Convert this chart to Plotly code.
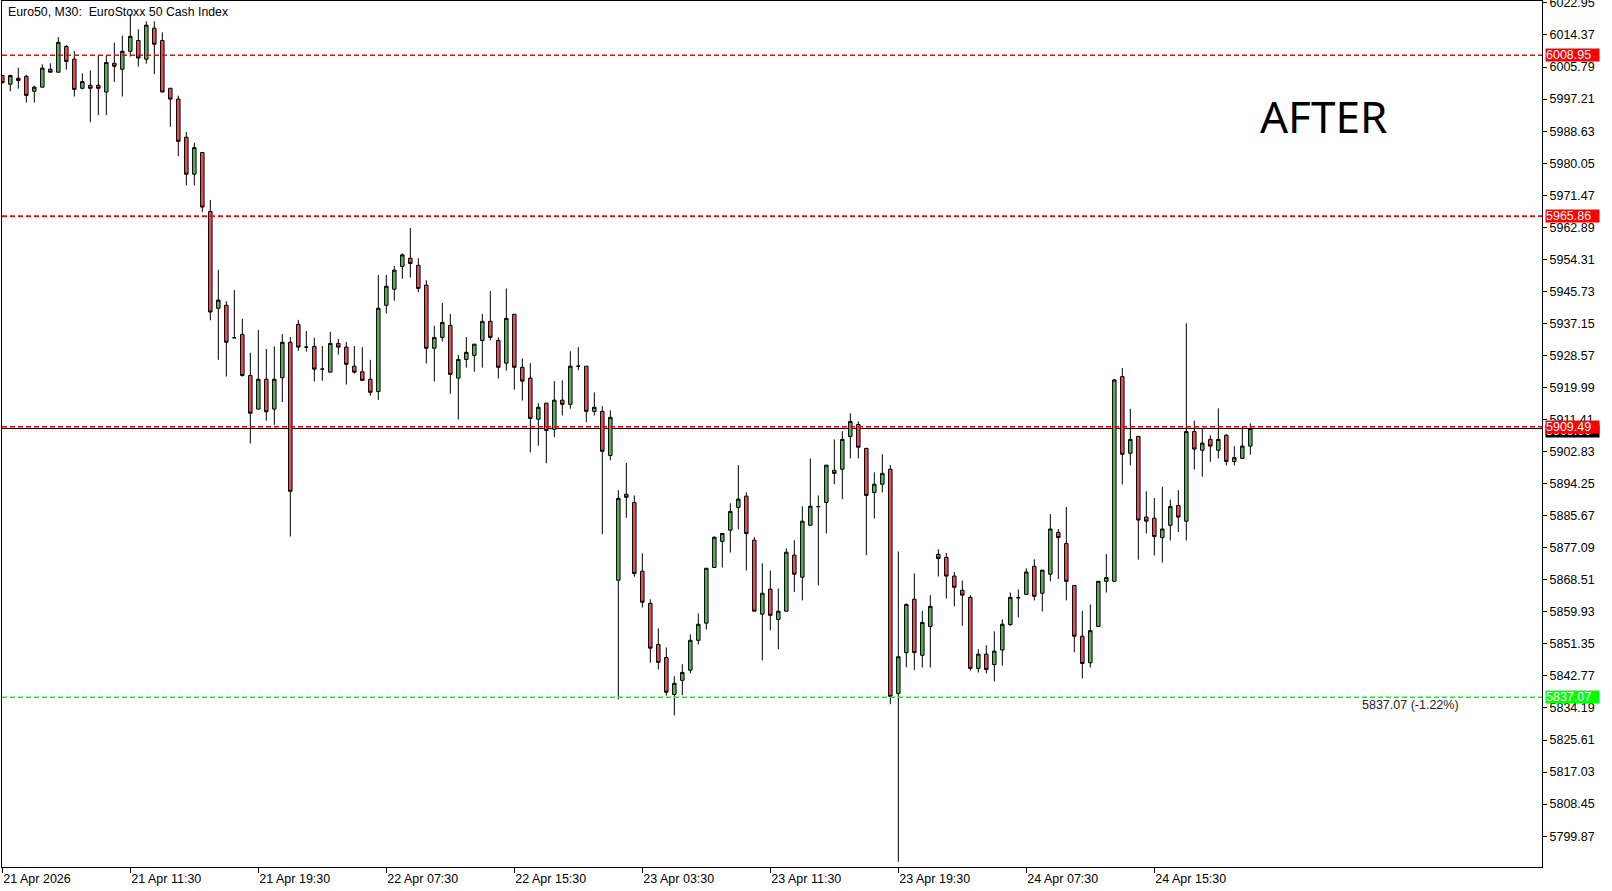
import plotly.graph_objects as go

# ---------------- data ----------------
opens = [6003.5, 6001.2, 6002.8, 6003.3, 5999.3, 6000.4, 6005.2, 6004.4, 6011.3, 6007.9,
         6000.1, 6000.9, 6000.9, 5999.1, 6006.8, 6005.2, 6010.0, 6012.9, 6007.9, 6016.2,
         6012.9, 6000.1, 5997.2, 5987.0, 5977.1, 5982.9, 5967.1, 5941.2, 5942.0, 5933.3,
         5934.2, 5923.2, 5914.2, 5922.2, 5914.2, 5922.6, 5932.1, 5936.9, 5930.8, 5931.0,
         5924.9, 5924.1, 5931.8, 5930.8, 5925.7, 5924.2, 5922.2, 5918.9, 5942.0, 5946.3,
         5952.4, 5954.6, 5952.7, 5947.4, 5930.5, 5933.4, 5936.6, 5922.5, 5927.5, 5928.6,
         5932.6, 5937.7, 5932.6, 5926.5, 5939.6, 5925.4, 5922.5, 5911.5, 5915.8, 5908.8,
         5916.6, 5915.5, 5925.7, 5925.7, 5913.6, 5913.6, 5901.8, 5868.4, 5891.4, 5889.2,
         5870.8, 5862.2, 5851.2, 5847.7, 5837.8, 5841.6, 5844.3, 5852.3, 5856.9, 5871.8,
         5878.8, 5881.8, 5887.9, 5890.9, 5879.1, 5859.3, 5866.0, 5857.9, 5860.1, 5875.1,
         5869.2, 5883.1, 5888.1, 5889.2, 5897.8, 5898.1, 5906.9, 5910.1, 5903.7, 5891.9,
         5894.1, 5898.1, 5838.1, 5849.0, 5863.3, 5848.3, 5856.0, 5875.3, 5874.5, 5869.5,
         5865.7, 5863.8, 5844.8, 5848.6, 5845.8, 5849.7, 5856.5, 5863.7, 5864.6, 5872.1,
         5864.9, 5870.0, 5881.2, 5878.2, 5867.0, 5853.4, 5846.3, 5856.0, 5868.1, 5868.1,
         5922.9, 5902.4, 5906.9, 5885.3, 5885.0, 5879.8, 5883.1, 5888.4, 5884.2, 5908.2,
         5903.2, 5906.1, 5903.2, 5907.2, 5900.2, 5901.0, 5904.3]
highs = [6003.7, 6003.7, 6005.6, 6003.7, 6000.8, 6006.5, 6006.8, 6013.8, 6011.7, 6010.1,
         6004.1, 6004.9, 6008.9, 6008.9, 6012.3, 6014.2, 6019.9, 6015.9, 6018.0, 6018.0,
         6015.1, 6000.1, 5998.1, 5988.4, 5985.5, 5982.9, 5970.2, 5951.5, 5943.1, 5946.1,
         5938.4, 5929.3, 5935.4, 5930.3, 5931.0, 5934.3, 5933.5, 5938.1, 5935.1, 5933.3,
         5931.1, 5934.9, 5933.0, 5932.2, 5931.1, 5930.8, 5927.4, 5950.1, 5950.1, 5952.5,
         5955.9, 5962.7, 5954.6, 5948.7, 5936.5, 5942.6, 5939.7, 5928.7, 5933.5, 5931.6,
         5939.7, 5945.8, 5933.4, 5946.5, 5939.6, 5927.8, 5926.5, 5915.8, 5915.8, 5921.7,
         5921.9, 5929.7, 5930.8, 5925.7, 5918.7, 5915.0, 5913.9, 5892.5, 5899.8, 5891.1,
         5875.6, 5863.3, 5855.5, 5850.4, 5842.7, 5845.9, 5853.9, 5859.5, 5871.6, 5880.1,
         5880.9, 5889.0, 5899.2, 5891.9, 5879.9, 5872.9, 5871.0, 5866.2, 5876.9, 5879.1,
         5888.2, 5901.0, 5891.1, 5899.2, 5906.1, 5908.3, 5913.1, 5910.9, 5903.7, 5897.3,
         5902.1, 5899.2, 5876.1, 5862.2, 5870.2, 5860.2, 5864.4, 5876.7, 5875.7, 5870.6,
         5868.3, 5864.4, 5849.9, 5851.0, 5854.7, 5857.9, 5865.1, 5865.9, 5871.6, 5874.0,
         5871.1, 5886.1, 5882.1, 5888.0, 5867.0, 5860.2, 5861.9, 5868.1, 5875.4, 5922.3,
         5925.2, 5914.3, 5906.9, 5892.2, 5890.4, 5893.4, 5890.0, 5892.5, 5937.2, 5911.1,
         5908.9, 5907.2, 5914.4, 5907.5, 5904.3, 5909.4, 5910.4]
lows = [6001.4, 5999.3, 6000.0, 5996.3, 5996.3, 6000.4, 6004.4, 6004.4, 6005.1, 5997.9,
        5999.8, 5991.0, 5992.9, 5992.9, 6001.8, 5997.9, 6008.6, 6005.9, 6006.7, 6003.9,
        5999.1, 5989.8, 5981.9, 5974.1, 5974.1, 5966.9, 5938.0, 5927.4, 5922.9, 5933.3,
        5922.9, 5905.0, 5914.2, 5911.1, 5910.0, 5916.1, 5880.1, 5929.8, 5929.6, 5921.6,
        5921.8, 5924.1, 5928.8, 5920.8, 5923.7, 5921.9, 5917.8, 5916.7, 5939.8, 5943.2,
        5949.1, 5949.4, 5945.5, 5926.4, 5921.6, 5932.3, 5918.3, 5911.4, 5925.3, 5924.2,
        5925.3, 5932.6, 5922.4, 5924.5, 5919.4, 5916.5, 5902.6, 5904.4, 5899.7, 5906.7,
        5912.5, 5914.3, 5924.6, 5910.7, 5912.5, 5880.7, 5900.5, 5836.5, 5885.1, 5869.3,
        5861.1, 5846.3, 5844.5, 5837.5, 5832.2, 5837.6, 5843.5, 5851.2, 5855.2, 5871.8,
        5871.8, 5875.8, 5882.0, 5871.0, 5860.1, 5846.9, 5855.0, 5849.9, 5860.1, 5865.2,
        5863.0, 5883.1, 5867.0, 5880.9, 5894.1, 5890.1, 5901.0, 5901.0, 5875.1, 5884.9,
        5891.9, 5835.2, 5793.0, 5845.1, 5844.3, 5845.0, 5845.0, 5869.4, 5863.5, 5861.4,
        5856.2, 5844.2, 5843.7, 5843.4, 5841.3, 5845.5, 5856.2, 5858.4, 5864.6, 5863.0,
        5860.0, 5868.1, 5868.7, 5863.0, 5849.1, 5842.1, 5845.0, 5856.0, 5865.1, 5868.1,
        5894.0, 5899.1, 5873.9, 5880.9, 5875.0, 5873.1, 5879.0, 5881.3, 5879.0, 5898.0,
        5896.1, 5900.1, 5901.0, 5899.1, 5899.1, 5901.0, 5902.0]
closes = [6001.6, 6003.5, 6002.2, 5998.2, 6000.4, 6005.5, 6004.4, 6012.4, 6007.3, 5999.8,
          6001.9, 6000.1, 6000.1, 6007.0, 6006.0, 6010.0, 6014.0, 6008.2, 6017.0, 6011.9,
          5999.1, 5997.2, 5985.9, 5977.1, 5984.2, 5968.3, 5940.2, 5943.4, 5932.1, 5933.3,
          5923.2, 5913.1, 5922.2, 5913.5, 5922.2, 5932.1, 5892.2, 5930.8, 5930.8, 5924.9,
          5924.9, 5931.8, 5930.8, 5926.2, 5924.1, 5921.9, 5918.7, 5941.2, 5947.1, 5951.4,
          5955.5, 5953.2, 5946.5, 5930.5, 5933.4, 5937.4, 5923.5, 5927.5, 5929.4, 5931.6,
          5937.7, 5933.4, 5925.4, 5938.5, 5925.4, 5921.7, 5911.7, 5914.7, 5908.5, 5916.6,
          5915.5, 5925.7, 5925.7, 5913.6, 5914.7, 5902.9, 5912.0, 5890.3, 5890.6, 5870.2,
          5862.5, 5850.2, 5846.4, 5838.4, 5840.8, 5843.7, 5852.3, 5856.6, 5871.6, 5879.9,
          5880.9, 5886.8, 5890.1, 5880.9, 5860.1, 5864.9, 5859.0, 5860.1, 5875.9, 5870.0,
          5884.2, 5888.2, 5888.1, 5899.2, 5897.0, 5906.1, 5910.9, 5904.0, 5891.1, 5894.1,
          5897.0, 5837.3, 5847.9, 5861.9, 5849.0, 5857.1, 5861.4, 5874.2, 5869.5, 5866.5,
          5864.4, 5844.8, 5848.6, 5844.5, 5849.4, 5856.6, 5863.8, 5863.7, 5870.6, 5864.1,
          5871.1, 5882.1, 5879.8, 5868.1, 5853.4, 5846.1, 5854.9, 5868.1, 5869.1, 5922.0,
          5902.1, 5906.1, 5884.5, 5884.2, 5880.1, 5882.1, 5888.1, 5885.3, 5908.2, 5903.5,
          5905.1, 5904.3, 5906.1, 5900.2, 5901.2, 5904.3, 5909.0]
bar_index = list(range(len(closes)))

time_tick_bars = [0, 16, 32, 48, 64, 80, 96, 112, 128, 144]
time_tick_labels = ["21 Apr 2026", "21 Apr 11:30", "21 Apr 19:30", "22 Apr 07:30", "22 Apr 15:30",
                    "23 Apr 03:30", "23 Apr 11:30", "23 Apr 19:30", "24 Apr 07:30", "24 Apr 15:30"]

price_ticks = [6022.95, 6014.37, 6005.79, 5997.21, 5988.63, 5980.05, 5971.47, 5962.89, 5954.31,
               5945.73, 5937.15, 5928.57, 5919.99, 5911.41, 5902.83, 5894.25, 5885.67, 5877.09,
               5868.51, 5859.93, 5851.35, 5842.77, 5834.19, 5825.61, 5817.03, 5808.45, 5799.87]

resistance_levels = [6008.95, 5965.86, 5909.49]
support_level = 5837.07
support_change_pct = -1.22
bid_price = closes[-1]

symbol_title = "Euro50, M30:\u00a0\u00a0EuroStoxx 50 Cash Index"
stage_label = "AFTER"

# ---------------- styling ----------------
FONT = "Liberation Sans"
GREEN = "#5DB35D"
RED = "#EE5159"
LIME = "#00FF00"

fig = go.Figure()
fig.add_trace(go.Candlestick(
    x=bar_index, open=opens, high=highs, low=lows, close=closes,
    increasing=dict(line=dict(color="black", width=1), fillcolor=GREEN),
    decreasing=dict(line=dict(color="black", width=1), fillcolor=RED),
    whiskerwidth=0, hoverinfo="skip", showlegend=False,
))

shapes = []
for lvl in resistance_levels:
    shapes.append(dict(type="line", xref="paper", x0=0, x1=1, yref="y", y0=lvl, y1=lvl,
                       line=dict(color="#FF0000", width=1.6, dash="5px,3px"), layer="above"))
shapes.append(dict(type="line", xref="paper", x0=0, x1=1, yref="y", y0=support_level, y1=support_level,
                   line=dict(color=LIME, width=1.6, dash="5px,3px"), layer="above"))
shapes.append(dict(type="line", xref="paper", x0=0, x1=1, yref="y", y0=bid_price, y1=bid_price,
                   line=dict(color="black", width=1), layer="below"))

annotations = []
# bid label (mostly hidden below the red level label)
annotations.append(dict(xref="paper", x=1, xanchor="left", xshift=3, yref="y", y=bid_price,
                        yanchor="middle", yshift=-2, text=f"{bid_price:.2f}", showarrow=False,
                        bgcolor="black", font=dict(family=FONT, size=12.5, color="white"),
                        width=53, height=12, borderpad=0, align="left"))
for lvl in resistance_levels:
    annotations.append(dict(xref="paper", x=1, xanchor="left", xshift=3, yref="y", y=lvl,
                            yanchor="middle", text=f"{lvl:.2f}", showarrow=False,
                            bgcolor="#FF0000", font=dict(family=FONT, size=12.5, color="white"),
                            width=53, height=12, borderpad=0, align="left"))
annotations.append(dict(xref="paper", x=1, xanchor="left", xshift=3, yref="y", y=support_level,
                        yanchor="middle", text=f"{support_level:.2f}", showarrow=False,
                        bgcolor=LIME, font=dict(family=FONT, size=12.5, color="white"),
                        width=53, height=12, borderpad=0, align="left"))
annotations.append(dict(xref="paper", x=0.9474, xanchor="right", yref="y", y=support_level,
                        yanchor="middle", yshift=-8,
                        text=f"{support_level:.2f} ({support_change_pct:.2f}%)", showarrow=False,
                        font=dict(family=FONT, size=12.5, color="#222222")))
annotations.append(dict(xref="paper", x=0, xanchor="left", xshift=4, yref="paper", y=1,
                        yanchor="top", yshift=-2, text=symbol_title, showarrow=False,
                        font=dict(family=FONT, size=12.3, color="black")))
annotations.append(dict(xref="paper", x=0.8156, xanchor="left", yref="paper", y=0.867,
                        yanchor="middle", text=stage_label, showarrow=False,
                        font=dict(family="Noto Sans", size=44, color="black")))

fig.update_layout(
    width=1612, height=891,
    margin=dict(l=2, r=70, t=1, b=24, pad=0, autoexpand=False),
    paper_bgcolor="white", plot_bgcolor="white",
    boxgap=0.38,
    shapes=shapes, annotations=annotations,
    font=dict(family=FONT, size=12.5, color="black"),
    xaxis=dict(type="linear", range=[-0.04, 192.46], rangeslider=dict(visible=False),
               tickmode="array", tickvals=time_tick_bars, ticktext=time_tick_labels,
               ticks="outside", ticklen=5, tickcolor="black", tickwidth=1,
               ticklabelposition="outside right", ticklabeloverflow="allow",
               automargin=False,
               showline=True, linecolor="black", linewidth=1, mirror=True,
               showgrid=False, zeroline=False,
               tickfont=dict(family=FONT, size=12.5, color="black")),
    yaxis=dict(side="right", range=[5791.61, 6023.47],
               tickmode="array", tickvals=price_ticks, tickformat=".2f",
               ticks="outside", ticklen=4, tickcolor="black", tickwidth=1,
               ticklabeloverflow="allow", automargin=False,
               showline=True, linecolor="black", linewidth=1, mirror=True,
               showgrid=False, zeroline=False,
               tickfont=dict(family=FONT, size=12.5, color="black")),
)

fig.write_html("out.html", config={"displayModeBar": False},
               post_script="document.body.style.margin='0';document.body.style.overflow='hidden';")
